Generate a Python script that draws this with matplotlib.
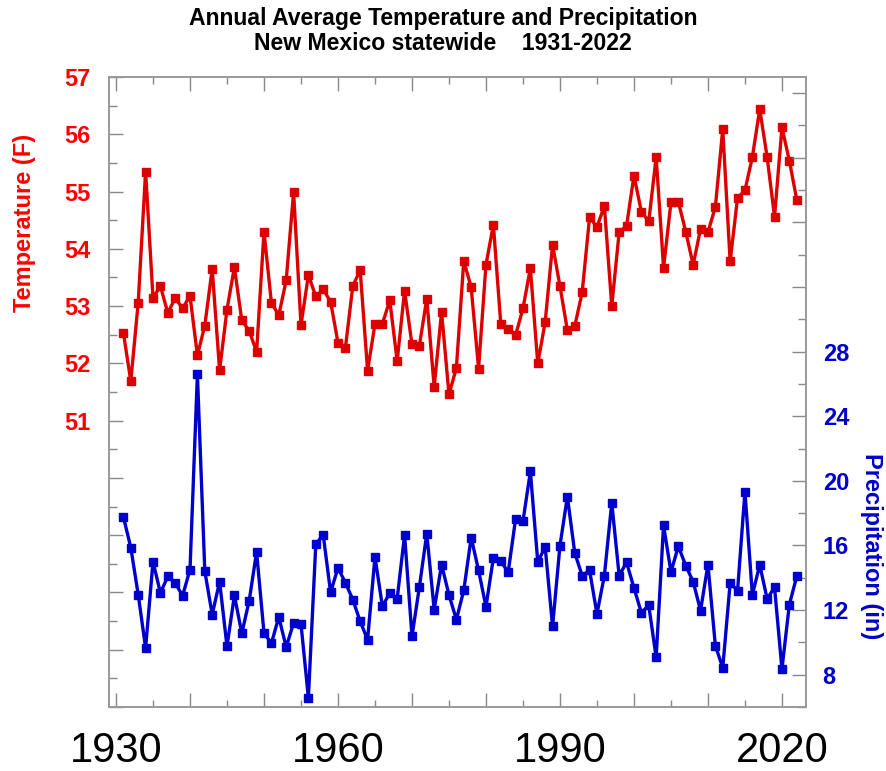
import numpy as np
import matplotlib
matplotlib.use('Agg')
import matplotlib.pyplot as plt
from matplotlib.ticker import MultipleLocator, FuncFormatter

plt.rcParams['font.family'] = ['Liberation Sans', 'DejaVu Sans']

years = list(range(1931, 2023))

# statewide annual mean temperature (F)
temp = [52.53, 51.69, 53.06, 55.35, 53.14, 53.35, 52.88, 53.14, 52.96, 53.18,
        52.14, 52.66, 53.65, 51.88, 52.94, 53.68, 52.75, 52.57, 52.20, 54.30,
        53.06, 52.84, 53.45, 54.99, 52.67, 53.54, 53.17, 53.29, 53.08, 52.36,
        52.27, 53.35, 53.63, 51.87, 52.69, 52.69, 53.10, 52.04, 53.27, 52.33,
        52.31, 53.13, 51.59, 52.90, 51.46, 51.92, 53.79, 53.33, 51.91, 53.72,
        54.42, 52.69, 52.60, 52.49, 52.96, 53.66, 52.00, 52.72, 54.07, 53.35,
        52.58, 52.65, 53.24, 54.55, 54.38, 54.75, 53.00, 54.29, 54.40, 55.28,
        54.65, 54.48, 55.60, 53.67, 54.81, 54.82, 54.30, 53.72, 54.35, 54.29,
        54.73, 56.09, 53.78, 54.89, 55.02, 55.60, 56.44, 55.60, 54.56, 56.12,
        55.54, 54.86]

# statewide annual precipitation (in)
precip = [17.77, 15.87, 12.96, 9.65, 15.00, 13.06, 14.09, 13.68, 12.89, 14.51,
          26.59, 14.42, 11.72, 13.76, 9.75, 12.91, 10.56, 12.58, 15.60, 10.58,
          9.94, 11.57, 9.71, 11.20, 11.14, 6.57, 16.07, 16.67, 13.10, 14.61,
          13.70, 12.65, 11.30, 10.17, 15.29, 12.23, 13.06, 12.71, 16.66, 10.37,
          13.43, 16.74, 12.03, 14.82, 12.94, 11.41, 13.22, 16.49, 14.46, 12.21,
          15.23, 15.04, 14.34, 17.63, 17.50, 20.58, 14.98, 15.91, 10.99, 15.99,
          19.03, 15.54, 14.13, 14.46, 11.76, 14.13, 18.64, 14.13, 14.96, 13.37,
          11.84, 12.29, 9.07, 17.25, 14.36, 15.95, 14.75, 13.76, 11.97, 14.82,
          9.80, 8.43, 13.68, 13.20, 19.34, 12.94, 14.80, 12.69, 13.41, 8.35,
          12.34, 14.09]

year_labels = [1930, 1960, 1990, 2020]

RED_LINE = '#dd0000'
RED_TEXT = '#ff0000'
BLUE = '#0000cc'
GRAY = '#999999'

fig = plt.figure(figsize=(8.86, 7.71), dpi=100)
ax = fig.add_axes([0.123, 0.083, 0.7867, 0.8171])
ax2 = ax.twinx()

ax.plot(years, temp, color=RED_LINE, lw=2.4, marker='s', ms=6.2, mec=RED_LINE, mfc=RED_LINE)
ax2.plot(years, precip, color=BLUE, lw=2.4, marker='s', ms=6.2, mec=BLUE, mfc=BLUE)

ax.set_xlim(1929.05, 2023.25)
ax.set_ylim(46, 57)
ax2.set_ylim(6, 45)

# x axis: long ticks every 10 years, short every 5, labels every 30
ax.xaxis.set_major_locator(MultipleLocator(10))
ax.xaxis.set_minor_locator(MultipleLocator(5))
ax.xaxis.set_major_formatter(FuncFormatter(
    lambda v, p: str(int(round(v))) if int(round(v)) in year_labels else ''))

# temperature axis
ax.yaxis.set_major_locator(MultipleLocator(1))
ax.yaxis.set_minor_locator(MultipleLocator(0.5))
ax.yaxis.set_major_formatter(FuncFormatter(
    lambda v, p: str(int(round(v))) if 51 <= v <= 57 else ''))

# precipitation axis
ax2.yaxis.set_major_locator(MultipleLocator(4))
ax2.yaxis.set_minor_locator(MultipleLocator(2))
ax2.yaxis.set_major_formatter(FuncFormatter(
    lambda v, p: str(int(round(v))) if 8 <= v <= 28 else ''))

ax.tick_params(axis='x', which='both', direction='in', top=True, bottom=True,
               color='#888888', labelsize=30, pad=17)
ax.tick_params(axis='x', which='major', length=10, width=1)
ax.tick_params(axis='x', which='minor', length=5, width=1)
ax.tick_params(axis='y', which='both', direction='in', left=True, right=False,
               color='#888888', labelcolor=RED_TEXT, labelsize=17, pad=13)
ax.tick_params(axis='y', which='major', length=10, width=1)
ax.tick_params(axis='y', which='minor', length=6, width=1)
ax2.tick_params(axis='y', which='both', direction='in', left=False, right=True,
                color='#888888', labelcolor=BLUE, labelsize=17, pad=12)
ax2.tick_params(axis='y', which='major', length=10, width=1)
ax2.tick_params(axis='y', which='minor', length=6, width=1)

for lab in ax.get_yticklabels() + ax2.get_yticklabels():
    lab.set_fontweight('bold')

for a in (ax, ax2):
    for s in a.spines.values():
        s.set_color(GRAY)
        s.set_linewidth(1.2)

fig.text(0.5, 1 - 19 / 771, 'Annual Average Temperature and Precipitation',
         ha='center', va='center', fontsize=16.6, fontweight='bold')
fig.text(0.5, 1 - 44 / 771, 'New Mexico statewide    1931-2022',
         ha='center', va='center', fontsize=16.6, fontweight='bold')

fig.text(25 / 886, 1 - 223 / 771, 'Temperature (F)', rotation=90,
         ha='center', va='center', fontsize=17, fontweight='bold', color=RED_TEXT)
fig.text(872 / 886, 1 - 546 / 771, 'Precipitation (in)', rotation=270,
         ha='center', va='center', fontsize=17, fontweight='bold', color=BLUE)

fig.savefig('out.png', dpi=100)
